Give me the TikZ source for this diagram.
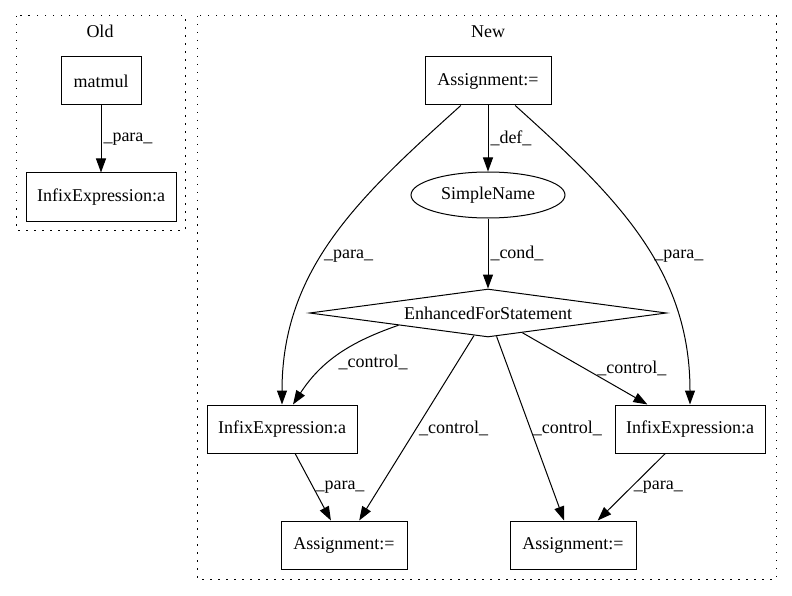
\documentclass[tikz,border=0pt]{standalone}
\usepackage{fontspec}
\setmainfont{Liberation Serif}
\usetikzlibrary{arrows.meta, shapes.geometric}
\tikzset{%
  x=1pt, y=1pt,
  every node/.style={font=\fontsize{18}{22}\selectfont},
  box/.style={draw, line width=1pt, rectangle, minimum height=48pt, inner sep=2pt},
  oval/.style={draw, line width=1pt, ellipse, minimum width=154pt, minimum height=46pt, inner sep=0pt},
  cond/.style={draw, line width=1pt, diamond, aspect=7.4, minimum width=357pt, minimum height=48pt, inner sep=0pt},
  lbl/.style={anchor=west, inner sep=2pt},
  cluster/.style={draw, line width=1pt, dash pattern=on 1.5pt off 6.5pt},
  every edge/.style={%
    draw, -{Triangle[length=14pt, width=10pt]}, line width=1pt
  }
}

\begin{document}
\begin{tikzpicture}
    \useasboundingbox (0,0) rectangle (792,-596);

    % the two dotted boxes
    \draw[cluster] (16,-16) rectangle (185,-230);
    \draw[cluster] (197,-16) rectangle (776,-579);
    \node (oldTitle) at (100,-31) {Old};
    \node (newTitle) at (488,-32) {New};

    \node[box, minimum width=80pt] (matmul) at (101,-81) {matmul};
    \node[box, minimum width=150pt] (infixOld) at (101,-197) {InfixExpression:a};

    \node[box, minimum width=126pt] (asgTop) at (488,-81) {Assignment:=};
    \node[oval] (simpleName) at (488,-195) {SimpleName};
    \node[cond] (forStmt) at (488,-313) {EnhancedForStatement};
    \node[box, minimum width=150pt] (infixL) at (282,-429) {InfixExpression:a};
    \node[box, minimum width=150pt] (infixR) at (690,-429) {InfixExpression:a};
    \node[box, minimum width=126pt] (asgL) at (344,-545) {Assignment:=};
    \node[box, minimum width=126pt] (asgR) at (573,-545) {Assignment:=};

    \draw (matmul) edge node[lbl] {\_para\_} (infixOld);
    \draw (asgTop) edge node[lbl] {\_def\_} (simpleName);
    \draw (simpleName) edge node[lbl] {\_cond\_} (forStmt);
    \draw (asgTop) edge[out=222, in=90] node[lbl, pos=.565] {\_para\_} (infixL);
    \draw (asgTop) edge[out=318, in=90] node[lbl, pos=.565] {\_para\_} (infixR);
    \draw (forStmt.south west) edge[out=199, in=57] node[lbl, pos=.6, xshift=8pt] {\_control\_} ([xshift=11pt]infixL.north);
    \draw (forStmt) edge node[lbl] {\_control\_} (asgL);
    \draw (forStmt) edge node[lbl] {\_control\_} (asgR);
    \draw (forStmt) edge node[lbl, xshift=10pt] {\_control\_} (infixR);
    \draw (infixL) edge node[lbl] {\_para\_} (asgL);
    \draw (infixR) edge node[lbl] {\_para\_} (asgR);
\end{tikzpicture}
\end{document}
